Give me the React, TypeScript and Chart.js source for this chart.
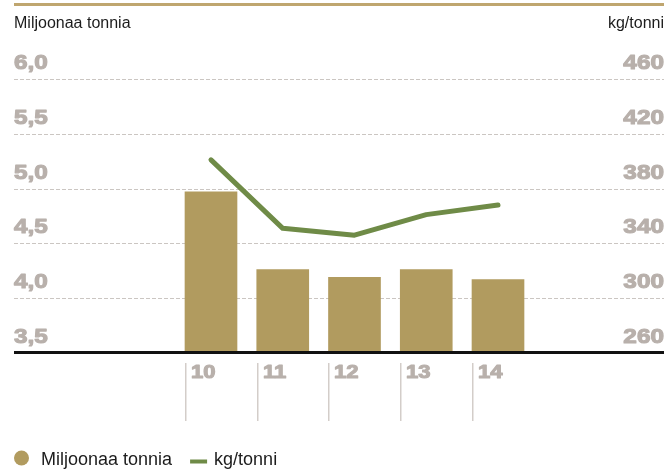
import React, { useEffect, useRef } from 'react';
import { Chart, registerables } from 'chart.js';

Chart.register(...registerables);

const years = [10, 11, 12, 13, 14];
const yearLabels = ['10', '11', '12', '13', '14'];
const tonnes = [4.97, 4.26, 4.19, 4.26, 4.17];
const kgPerTonne = [401, 351, 346, 361, 368];
const leftTicks = [3.5, 4.0, 4.5, 5.0, 5.5, 6.0];
const rightTicks = [260, 300, 340, 380, 420, 460];
const leftTitle = 'Miljoonaa tonnia';
const rightTitle = 'kg/tonni';
const barSeriesName = 'Miljoonaa tonnia';
const lineSeriesName = 'kg/tonni';

const BAR_COLOR = '#b19b5f';
const LINE_COLOR = '#6f8b47';
const TICK_COLOR = '#b8b0ab';
const GRID_COLOR = '#cbc6c2';
const TEXT_COLOR = '#1c1c1c';
const RULE_COLOR = '#bfa66f';
const SANS = '"Liberation Sans", Arial, Helvetica, sans-serif';
const BAR_W = 52;
const STRETCH = 1.16;

function wideText(ctx: any, text: string, x: number, y: number, align: 'left' | 'right') {
  ctx.save();
  ctx.textAlign = 'left';
  const w = ctx.measureText(text).width * STRETCH;
  const startX = align === 'left' ? x : x - w;
  ctx.translate(startX, y);
  ctx.scale(STRETCH, 1);
  ctx.strokeStyle = ctx.fillStyle;
  ctx.lineWidth = 1.1;
  ctx.lineJoin = 'round';
  ctx.strokeText(text, 0, 0);
  ctx.fillText(text, 0, 0);
  ctx.restore();
}

const decor = {
  id: 'decor',
  beforeDatasetsDraw(chart: any) {
    const { ctx, chartArea: a, scales } = chart;
    const y = scales.y;
    const y1 = scales.y1;
    ctx.save();
    // top rule
    ctx.fillStyle = RULE_COLOR;
    ctx.fillRect(a.left, 3, a.right - a.left, 3);
    // axis titles
    ctx.fillStyle = TEXT_COLOR;
    ctx.font = `16px ${SANS}`;
    ctx.textBaseline = 'alphabetic';
    ctx.textAlign = 'left';
    ctx.fillText(leftTitle, a.left, 28);
    ctx.textAlign = 'right';
    ctx.fillText(rightTitle, a.right, 28);
    // dashed grid
    ctx.strokeStyle = GRID_COLOR;
    ctx.lineWidth = 1;
    ctx.setLineDash([4, 2]);
    leftTicks.slice(1).forEach((v) => {
      const py = Math.round(y.getPixelForValue(v)) + 0.5;
      ctx.beginPath();
      ctx.moveTo(a.left, py);
      ctx.lineTo(a.right, py);
      ctx.stroke();
    });
    ctx.setLineDash([]);
    // tick labels
    ctx.font = `bold 21px ${SANS}`;
    ctx.fillStyle = TICK_COLOR;
    ctx.textBaseline = 'alphabetic';
    leftTicks.forEach((v) => {
      wideText(ctx, v.toFixed(1).replace('.', ','), a.left, y.getPixelForValue(v) - 10, 'left');
    });
    rightTicks.forEach((v) => {
      wideText(ctx, String(v), a.right, y1.getPixelForValue(v) - 10, 'right');
    });
    ctx.restore();
  },
  afterDatasetsDraw(chart: any) {
    const { ctx, chartArea: a, scales } = chart;
    const x = scales.x;
    ctx.save();
    // baseline
    ctx.fillStyle = '#111111';
    ctx.fillRect(a.left, a.bottom - 2, a.right - a.left, 3);
    // x labels with separators
    years.forEach((v, i) => {
      const left = Math.round(x.getPixelForValue(v) - BAR_W / 2);
      ctx.fillStyle = '#d3cdc9';
      ctx.fillRect(left, a.bottom + 10, 1.5, 58);
      ctx.fillStyle = TICK_COLOR;
      ctx.font = `bold 19px ${SANS}`;
      ctx.textBaseline = 'alphabetic';
      wideText(ctx, yearLabels[i], left + 6, a.bottom + 25, 'left');
    });
    // legend
    const ly = 458;
    ctx.fillStyle = BAR_COLOR;
    ctx.beginPath();
    ctx.arc(21.5, ly, 7.5, 0, Math.PI * 2);
    ctx.fill();
    ctx.fillStyle = TEXT_COLOR;
    ctx.font = `18px ${SANS}`;
    ctx.textAlign = 'left';
    ctx.textBaseline = 'alphabetic';
    ctx.fillText(barSeriesName, 41, 465);
    const w = ctx.measureText(barSeriesName).width;
    const lx = 41 + w + 18;
    ctx.strokeStyle = LINE_COLOR;
    ctx.lineWidth = 4;
    ctx.beginPath();
    ctx.moveTo(lx, 461.5);
    ctx.lineTo(lx + 17, 461.5);
    ctx.stroke();
    ctx.fillText(lineSeriesName, lx + 24, 465);
    ctx.restore();
  },
};

export default function App() {
  const ref = useRef<HTMLCanvasElement | null>(null);
  useEffect(() => {
    document.body.style.margin = '0';
    const canvas = ref.current;
    if (!canvas) return;
    const chart = new Chart(canvas, {
      type: 'bar',
      data: {
        datasets: [
          {
            type: 'line',
            label: lineSeriesName,
            data: years.map((v, i) => ({ x: v, y: kgPerTonne[i] })),
            yAxisID: 'y1',
            borderColor: LINE_COLOR,
            backgroundColor: LINE_COLOR,
            borderWidth: 5,
            pointRadius: 0,
            tension: 0,
            borderCapStyle: 'round',
            borderJoinStyle: 'round',
            order: 0,
          } as any,
          {
            type: 'bar',
            label: barSeriesName,
            data: years.map((v, i) => ({ x: v, y: tonnes[i] })),
            yAxisID: 'y',
            backgroundColor: BAR_COLOR,
            barThickness: BAR_W,
            base: 3.5,
            order: 1,
          } as any,
        ],
      },
      options: {
        responsive: false,
        animation: false,
        devicePixelRatio: 1,
        layout: { padding: { left: 14, right: 4, top: 79, bottom: 118 } },
        plugins: { legend: { display: false }, tooltip: { enabled: false } },
        scales: {
          x: { type: 'linear', display: false, offset: false, min: 7.2544, max: 16.3136 },
          y: { type: 'linear', display: false, min: 3.5, max: 6.0 },
          y1: { type: 'linear', display: false, min: 260, max: 460, position: 'right' },
        },
      },
      plugins: [decor],
    });
    return () => chart.destroy();
  }, []);
  return <canvas ref={ref} width={668} height={471} style={{ display: 'block' }} />;
}
